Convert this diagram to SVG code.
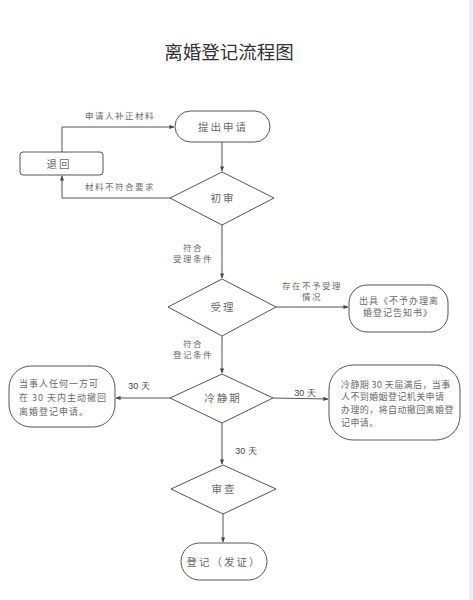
<svg xmlns="http://www.w3.org/2000/svg" width="473" height="600" viewBox="0 0 473 600">
<style>
text{font-family:"Noto Sans CJK SC","Liberation Sans",sans-serif;fill:#6a6a6a}
.title{font-size:18.5px;fill:#333}
.n{font-size:10.5px;letter-spacing:2px}
.s{font-size:9px;letter-spacing:1.5px}
.t{font-size:9px;letter-spacing:1px}
.r{font-size:9px;letter-spacing:0.4px}
.l{font-size:8.5px;letter-spacing:1.5px}
.num{font-family:"Liberation Sans",sans-serif;font-size:9px;fill:#444}
.shape{fill:#fff;stroke:#555;stroke-width:1}
.c{fill:none;stroke:#555;stroke-width:1;marker-end:url(#a)}
</style>
<defs>
<marker id="a" viewBox="0 0 6 6" refX="5.5" refY="3" markerWidth="5" markerHeight="5" orient="auto" markerUnits="userSpaceOnUse">
<path d="M0,0.5 L6,3 L0,5.5 z" fill="#444"/>
</marker>
</defs>
<rect width="473" height="600" fill="#fff"/>
<rect x="469" y="0" width="4" height="600" fill="#eef0f8"/>
<text class="title" x="229" y="59" text-anchor="middle">离婚登记流程图</text>

<g id="connectors">
<path class="c" d="M62,152 V127 H174"/>
<text class="l" x="120" y="119" text-anchor="middle">申请人补正材料</text>
<path class="c" d="M170,198 H62 V176"/>
<text class="l" x="120" y="190" text-anchor="middle">材料不符合要求</text>
<path class="c" d="M222,142 V171"/>
<path class="c" d="M222,225 V278"/>
<text class="l" x="193" y="251" text-anchor="middle">符合</text>
<text class="l" x="193" y="262" text-anchor="middle">受理条件</text>
<path class="c" d="M276,307 H348"/>
<text class="l" x="312" y="289" text-anchor="middle">存在不予受理</text>
<text class="l" x="312" y="300" text-anchor="middle">情况</text>
<path class="c" d="M222,336 V373"/>
<text class="l" x="193" y="347" text-anchor="middle">符合</text>
<text class="l" x="193" y="358" text-anchor="middle">登记条件</text>
<path class="c" d="M170,398 H116"/>
<text class="num" x="139" y="389" text-anchor="middle">30 天</text>
<path class="c" d="M273,398 L328,399"/>
<text class="num" x="305" y="396" text-anchor="middle">30 天</text>
<path class="c" d="M222,423 V464"/>
<text class="num" x="246" y="454" text-anchor="middle">30 天</text>
<path class="c" d="M223,514 V542"/>
</g>

<g id="n-apply">
<rect class="shape" x="175" y="111" width="95" height="31" rx="15.5"/>
<text class="n" x="223" y="131" text-anchor="middle">提出申请</text>
</g>
<g id="n-return">
<rect class="shape" x="20" y="152" width="83" height="23" rx="3"/>
<text class="n" x="59" y="168" text-anchor="middle">退回</text>
</g>
<g id="n-review">
<polygon class="shape" points="222,172 274,198 222,225 170,198"/>
<text class="n" x="223" y="202" text-anchor="middle">初审</text>
</g>
<g id="n-accept">
<polygon class="shape" points="222,279 276,307 222,336 168,307"/>
<text class="n" x="223" y="311" text-anchor="middle">受理</text>
</g>
<g id="n-notice">
<rect class="shape" x="349" y="285" width="99" height="47" rx="18"/>
<text class="t" x="399" y="304" text-anchor="middle">出具《不予办理离</text>
<text class="t" x="398" y="316" text-anchor="middle">婚登记告知书》</text>
</g>
<g id="n-cool">
<polygon class="shape" points="222,374 273,398 222,423 170,398"/>
<text class="n" x="223" y="402" text-anchor="middle">冷静期</text>
</g>
<g id="n-withdraw">
<rect class="shape" x="9" y="366" width="106" height="61" rx="22"/>
<text class="t" x="19" y="387">当事人任何一方可</text>
<text class="t" x="19" y="401">在 30 天内主动撤回</text>
<text class="t" x="19" y="415">离婚登记申请。</text>
</g>
<g id="n-auto">
<rect class="shape" x="329" y="365" width="131" height="75" rx="24"/>
<text class="r" x="341" y="388">冷静期 30 天届满后，当事</text>
<text class="r" x="341" y="400">人不到婚姻登记机关申请</text>
<text class="r" x="341" y="413">办理的，将自动撤回离婚登</text>
<text class="r" x="341" y="426">记申请。</text>
</g>
<g id="n-check">
<polygon class="shape" points="223,465 276,489 223,514 171,489"/>
<text class="n" x="224" y="493" text-anchor="middle">审查</text>
</g>
<g id="n-register">
<rect class="shape" x="181" y="543" width="86" height="37" rx="18.5"/>
<text class="n" x="224" y="566" text-anchor="middle">登记（发证）</text>
</g>
</svg>
